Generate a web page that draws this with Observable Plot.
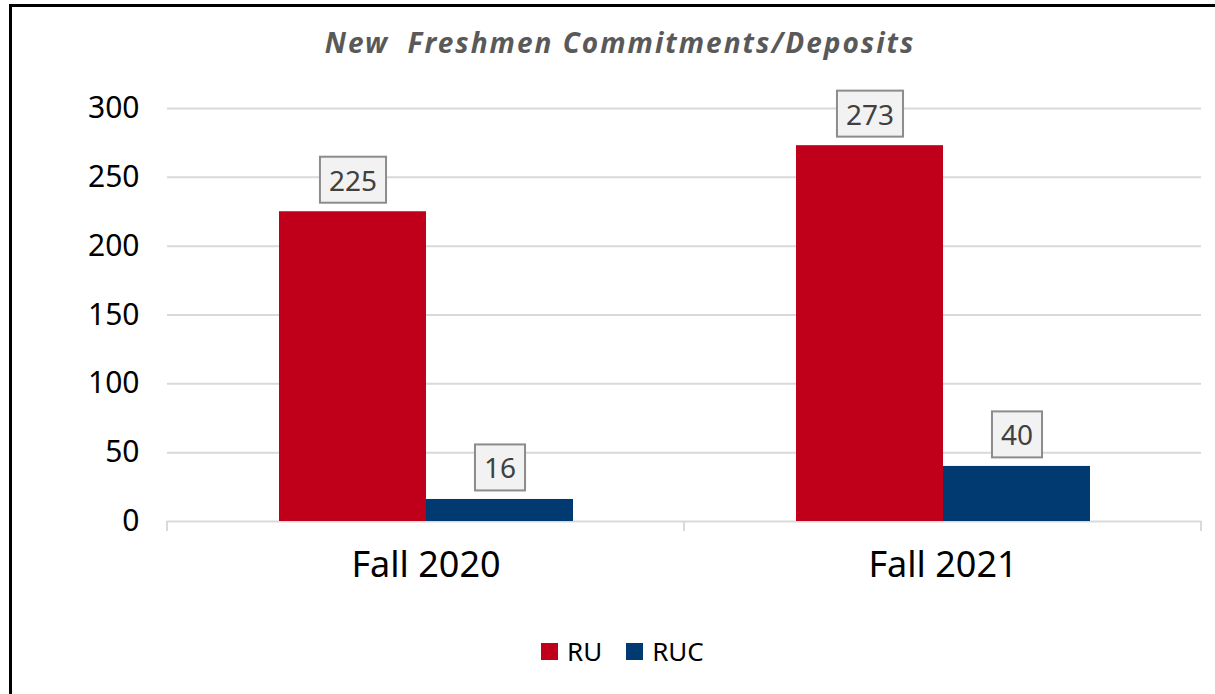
<!DOCTYPE html>
<html>
<head>
<meta charset="utf-8">
<script src="https://cdn.jsdelivr.net/npm/d3@7"></script>
<script src="https://cdn.jsdelivr.net/npm/@observablehq/plot@0.6"></script>
<style>
  html, body { margin: 0; padding: 0; background: #fff; }
  #wrap { position: relative; width: 1215px; height: 694px; overflow: hidden; font-family: "Noto Sans", sans-serif; }
  #frame { position: absolute; left: 9px; top: 4px; width: 1220px; height: 700px; border-top: 3px solid #000; border-left: 3px solid #000; box-sizing: border-box; }
  #title { position: absolute; top: 28px; left: 620px; transform: translateX(-50%); white-space: pre; font-size: 28px; line-height: 1; font-style: italic; font-weight: bold; letter-spacing: 2px; color: #595959; }
  #chart { position: absolute; left: 0; top: 0; }
  #legend { position: absolute; top: 638px; left: 541px; display: flex; align-items: center; font-family: "Noto Sans", sans-serif; font-size: 26px; color: #000; line-height: 1; }
  #legend .item { display: flex; align-items: center; margin-right: 24px; }
  #legend .sw { width: 17px; height: 17px; margin-right: 9px; }
  #legend .lab { font-size: 26px; }
</style>
</head>
<body>
<div id="wrap">
  <div id="frame"></div>
  <div id="title"></div>
  <div id="chart"></div>
  <div id="legend"></div>
</div>
<script>
const title = "New  Freshmen Commitments/Deposits";
const terms = ["Fall 2020", "Fall 2021"];
const schools = ["RU", "RUC"];
const ruValues = [225, 273];
const rucValues = [16, 40];
const colors = ["#c0001a", "#003a70"];
const yTicks = [0, 50, 100, 150, 200, 250, 300];

const data = [];
terms.forEach((t, i) => {
  data.push({term: t, school: "RU", value: ruValues[i]});
  data.push({term: t, school: "RUC", value: rucValues[i]});
});

document.getElementById("title").textContent = title;

const plot = Plot.plot({
  width: 1215,
  height: 600,
  marginTop: 108,
  marginBottom: 79,
  marginLeft: 167,
  marginRight: 14,
  style: {fontFamily: "'Noto Sans', sans-serif", background: "transparent", overflow: "visible", color: "#000"},
  fx: {domain: terms, padding: 0, label: null, tickSize: 0, tickPadding: 30},
  x: {domain: schools, paddingInner: 0, paddingOuter: 0.747, axis: null},
  y: {domain: [0, 300], ticks: yTicks, label: null, tickSize: 0, tickPadding: 28, tickFormat: d => String(d)},
  color: {domain: schools, range: colors},
  marks: [
    Plot.ruleY(yTicks, {stroke: "#d9d9d9", strokeWidth: 2}),
    Plot.barY(data, {fx: "term", x: "school", y: "value", fill: "school"}),
    Plot.text(data, {fx: "term", x: "school", y: "value", text: d => String(d.value), dy: -30, fontSize: 28, fill: "#404040"})
  ]
});

document.getElementById("chart").appendChild(plot);

const valueStrings = new Set(data.map(d => String(d.value)));

d3.select(plot).selectAll("text").each(function() {
  const axisG = this.closest("[aria-label*='axis']");
  if (axisG) {
    const lab = axisG.getAttribute("aria-label");
    if (lab.startsWith("y-axis")) { this.setAttribute("font-size", 30); this.setAttribute("fill", "#000"); }
    else if (lab.startsWith("fx-axis")) { this.setAttribute("font-size", 36); this.setAttribute("fill", "#000"); }
  }
});

// label boxes
d3.select(plot).selectAll("text").each(function() {
  if (this.closest("[aria-label*='axis']")) return;
  if (!valueStrings.has(this.textContent)) return;
  const bb = this.getBBox();
  const cy = bb.y + bb.height / 2;
  const r = document.createElementNS("http://www.w3.org/2000/svg", "rect");
  r.setAttribute("x", bb.x - 9);
  r.setAttribute("y", cy - 23);
  r.setAttribute("width", bb.width + 18);
  r.setAttribute("height", 46);
  r.setAttribute("fill", "#f2f2f2");
  r.setAttribute("stroke", "#8c8c8c");
  r.setAttribute("stroke-width", 2);
  const tr = this.getAttribute("transform");
  if (tr) r.setAttribute("transform", tr);
  this.parentNode.insertBefore(r, this);
});

// category separator ticks along baseline
const fx = plot.scale("fx");
const ySc = plot.scale("y");
const y0 = ySc.apply(0);
const edges = [];
terms.forEach(t => edges.push(fx.apply(t)));
edges.push(fx.apply(terms[terms.length - 1]) + fx.bandwidth);
const g = d3.select(plot).append("g");
g.selectAll("line").data(edges).join("line")
  .attr("x1", d => d).attr("x2", d => d)
  .attr("y1", y0).attr("y2", y0 + 10)
  .attr("stroke", "#d9d9d9").attr("stroke-width", 2);

// legend
const leg = d3.select("#legend");
schools.forEach((s, i) => {
  const it = leg.append("div").attr("class", "item");
  it.append("div").attr("class", "sw").style("background", colors[i]);
  it.append("span").attr("class", "lab").style("font-size", "26px").text(s);
});
</script>
</body>
</html>
